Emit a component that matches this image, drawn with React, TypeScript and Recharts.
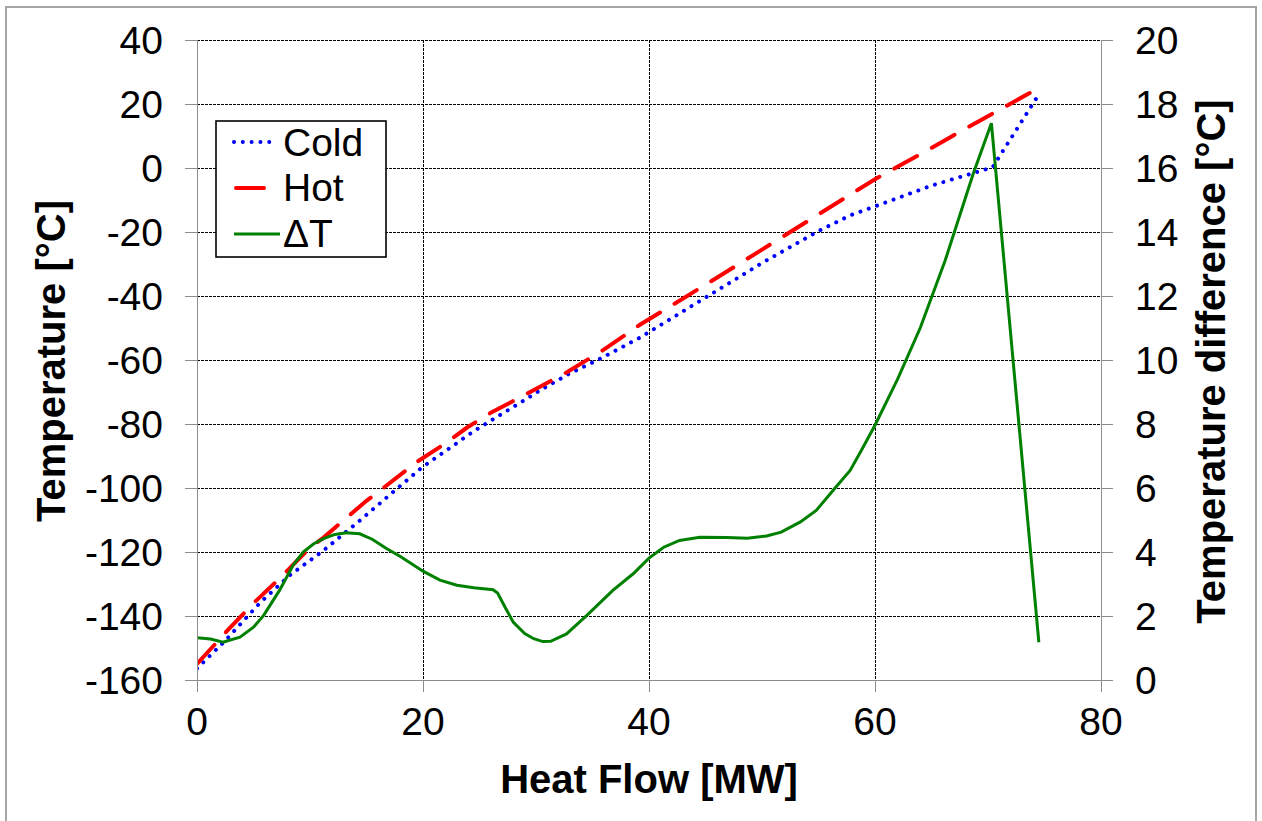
import React from 'react';
import { LineChart, Line, XAxis, YAxis, CartesianGrid, Legend } from 'recharts';

const FONT = '"Liberation Sans", Arial, Helvetica, sans-serif';

// Axis ticks
const heatFlowTicks = [0, 20, 40, 60, 80];
const temperatureTicks = [-160, -140, -120, -100, -80, -60, -40, -20, 0, 20, 40];
const differenceTicks = [0, 2, 4, 6, 8, 10, 12, 14, 16, 18, 20];

// Series names
const seriesNames = ['Cold', 'Hot', 'ΔT'];

// Cold composite curve
const coldHeatFlow = [0, 2.5, 5.6, 8.2, 11.2, 14.4, 17.7, 19.9, 24.6, 28.9, 30.4, 33, 35.9, 39.2, 45, 50, 55, 57.8, 60, 65, 70.4, 74.5];
const coldTemperature = [-156.4, -147.7, -135.8, -127.3, -119.5, -110.2, -100.2, -93.6, -82, -72.7, -69.4, -64.2, -59.2, -53, -40.5, -29.7, -19.7, -14.8, -12, -5.5, 0.2, 23];

// Hot composite curve
const hotHeatFlow = [0, 2.7, 5, 7.3, 10, 11.2, 13, 15, 16.2, 19.4, 22, 23.9, 26, 28.9, 32.7, 35.9, 39.2, 45, 50, 55, 60, 63.4, 66.9, 70.4, 74.6];
const hotTemperature = [-155, -144.5, -136, -128.3, -118.6, -115.5, -110, -104, -100.8, -92, -86, -81.1, -76.5, -71.1, -63.9, -57, -49, -36.5, -25.5, -14.5, -3.5, 3.1, 10.1, 17, 25.2];

// Temperature difference
const deltaHeatFlow = [0, 1.2, 2.3, 3.8, 5, 5.9, 7.3, 8.5, 9.4, 10.3, 11.2, 12.2, 13.2, 14.4, 15.5, 16.8, 18, 20, 21.5, 23, 24.5, 26.2, 26.6, 27.3, 28, 29, 29.8, 30.6, 31.3, 32.7, 34.5, 36.8, 38.6, 40, 41.3, 42.7, 44.5, 46.9, 48.7, 50.4, 51.7, 53.4, 54.8, 56.3, 57.8, 58.8, 60, 62, 64, 66.2, 68.7, 70.3, 74.5];
const deltaT = [1.32, 1.28, 1.18, 1.34, 1.65, 2.02, 2.8, 3.58, 4.0, 4.25, 4.42, 4.55, 4.6, 4.57, 4.4, 4.1, 3.86, 3.4, 3.12, 2.96, 2.88, 2.82, 2.72, 2.25, 1.8, 1.45, 1.29, 1.2, 1.21, 1.44, 2.02, 2.8, 3.32, 3.81, 4.15, 4.36, 4.46, 4.45, 4.43, 4.5, 4.62, 4.94, 5.3, 5.93, 6.55, 7.18, 7.96, 9.4, 11.0, 13.1, 15.83, 17.4, 1.18];

const zip = (xs: number[], ys: number[]) => xs.map((x, i) => ({ x, y: ys[i] }));
const coldData = zip(coldHeatFlow, coldTemperature);
const hotData = zip(hotHeatFlow, hotTemperature);
const deltaData = zip(deltaHeatFlow, deltaT);

const COLD = '#0000ff';
const HOT = '#ff0000';
const DELTA = '#008000';
const AXIS = '#8c8c8c';

const XTitle = () => (
  <text x={649} y={793} textAnchor="middle" fontFamily={FONT} fontSize={40} fontWeight="bold" fill="#000">
    Heat Flow [MW]
  </text>
);

const LeftTitle = () => (
  <text x={65} y={361} transform="rotate(-90, 65, 361)" textAnchor="middle" fontFamily={FONT} fontSize={40} fontWeight="bold" fill="#000">
    Temperature [°C]
  </text>
);

const RightTitle = () => (
  <text x={1225} y={361.5} transform="rotate(-90, 1225, 361.5)" textAnchor="middle" fontFamily={FONT} fontSize={40} fontWeight="bold" fill="#000">
    Temperature difference [°C]
  </text>
);

const LegendBox = () => (
  <svg width={172} height={138} style={{ display: 'block' }}>
    <rect x={1} y={1} width={170} height={136} fill="#fff" stroke="#000" strokeWidth={1.6} />
    <line x1={19} y1={22} x2={63} y2={22} stroke={COLD} strokeWidth={4} strokeLinecap="round" strokeDasharray="0.01 8.8" />
    <text x={68} y={36} fontFamily={FONT} fontSize={39} fill="#000">{seriesNames[0]}</text>
    <line x1={21} y1={68} x2={49} y2={68} stroke={HOT} strokeWidth={4} strokeLinecap="round" />
    <text x={68} y={81} fontFamily={FONT} fontSize={39} fill="#000">{seriesNames[1]}</text>
    <line x1={19} y1={114} x2={65} y2={114} stroke={DELTA} strokeWidth={3} />
    <text x={68} y={127} fontFamily={FONT} fontSize={39} fill="#000">{seriesNames[2]}</text>
  </svg>
);

const tickStyle = { fill: '#000', fontSize: 39, fontFamily: FONT };

export default function App() {
  return (
    <div style={{ position: 'absolute', left: 0, top: 0, width: 1262, height: 821, background: '#fff', overflow: 'hidden' }}>
      <div style={{ position: 'absolute', left: 5, top: 6, width: 1248, height: 840, border: '2px solid #a6a6a6' }} />
      <div style={{ position: 'absolute', left: 0, top: 0 }}>
        <LineChart width={1262} height={821} margin={{ top: 40, right: 0, bottom: 0, left: 0 }}>
          <CartesianGrid yAxisId="left" stroke="#000" strokeDasharray="3 1" strokeWidth={1} shapeRendering="crispEdges" />
          <XAxis
            dataKey="x"
            type="number"
            domain={[0, 80]}
            ticks={heatFlowTicks}
            allowDataOverflow
            height={141}
            tickSize={12}
            tickMargin={15}
            stroke={AXIS}
            shapeRendering="crispEdges"
            tick={tickStyle}
            label={<XTitle />}
          />
          <YAxis
            yAxisId="left"
            orientation="left"
            type="number"
            domain={[-160, 40]}
            ticks={temperatureTicks}
            allowDataOverflow
            width={197}
            tickSize={12}
            tickMargin={22}
            stroke={AXIS}
            shapeRendering="crispEdges"
            tick={tickStyle}
            label={<LeftTitle />}
          />
          <YAxis
            yAxisId="right"
            orientation="right"
            type="number"
            domain={[0, 20]}
            ticks={differenceTicks}
            allowDataOverflow
            width={161}
            tickSize={12}
            tickMargin={22}
            stroke={AXIS}
            shapeRendering="crispEdges"
            tick={tickStyle}
            label={<RightTitle />}
          />
          <Legend
            layout="horizontal"
            verticalAlign="middle"
            align="center"
            wrapperStyle={{ left: 215, top: 120, width: 172, height: 138 }}
            content={() => <LegendBox />}
          />
          <Line
            yAxisId="left"
            data={coldData}
            dataKey="y"
            name={seriesNames[0]}
            type="linear"
            stroke={COLD}
            strokeWidth={4}
            strokeLinecap="round"
            strokeDasharray="0.01 8.8"
            dot={false}
            activeDot={false}
            isAnimationActive={false}
          />
          <Line
            yAxisId="left"
            data={hotData}
            dataKey="y"
            name={seriesNames[1]}
            type="linear"
            stroke={HOT}
            strokeWidth={4}
            strokeLinecap="round"
            strokeDasharray="26 17"
            dot={false}
            activeDot={false}
            isAnimationActive={false}
          />
          <Line
            yAxisId="right"
            data={deltaData}
            dataKey="y"
            name={seriesNames[2]}
            type="linear"
            stroke={DELTA}
            strokeWidth={3}
            dot={false}
            activeDot={false}
            isAnimationActive={false}
          />
        </LineChart>
      </div>
    </div>
  );
}
